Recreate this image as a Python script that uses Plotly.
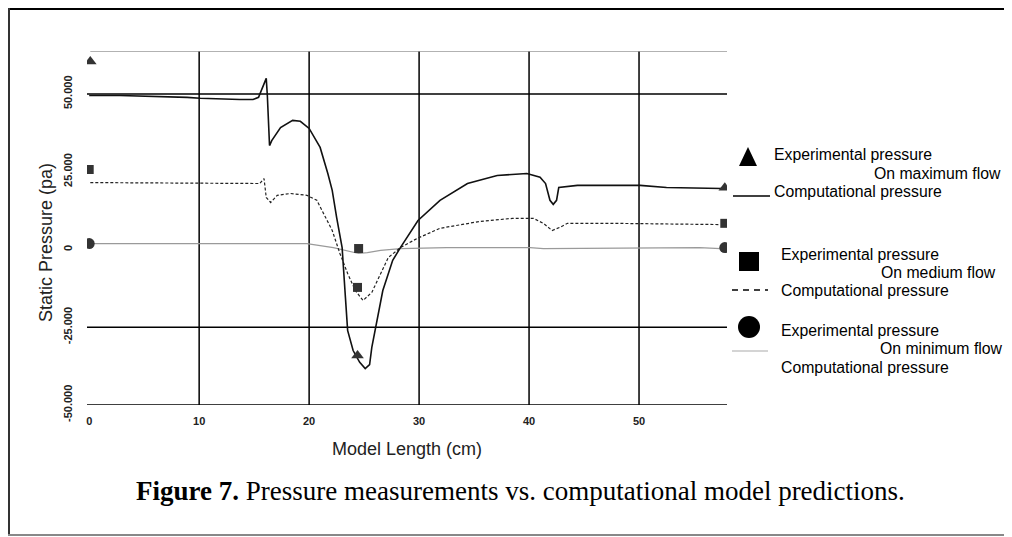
import plotly.graph_objects as go

# ---------------- data ----------------
max_x = [0, 2.8, 8.9, 10.1, 13.7, 14.9, 15.4, 16.1, 16.2, 16.4, 16.6, 17.4, 18.5, 19.2, 20.0, 21.0, 21.7,
         22.1, 22.5, 23.0, 23.3, 23.5, 24.0, 24.6, 25.1, 25.5, 25.7, 26.2, 26.7, 27.6, 28.3, 29.9, 31.9,
         34.4, 37.1, 39.8, 41.0, 41.5, 41.9, 42.2, 42.5, 42.7, 44.4, 50.1, 52.5, 57.5]
max_y = [49500, 49500, 48900, 48600, 48200, 48200, 48900, 55000, 49500, 33400, 35000, 39200, 41500, 41200,
         38900, 32800, 24400, 19000, 10300, 600, -15400, -26000, -32500, -36300, -38300, -37000, -31500,
         -22800, -13200, -3500, 600, 9300, 15800, 21200, 23800, 24400, 23200, 21200, 15800, 14500, 15800,
         19900, 20600, 20600, 19900, 19600]

med_x = [0.1, 13.7, 15.5, 15.9, 16.1, 16.5, 17.1, 18.3, 19.8, 20.7, 21.3, 22.1, 22.8, 23.5, 24.2, 24.9,
         25.7, 26.5, 27.2, 28.3, 29.8, 31.9, 35.5, 38.5, 40.4, 41.3, 42.1, 42.8, 43.5, 47.6, 57.4]
med_y = [21500, 21200, 21200, 22800, 16700, 15100, 17400, 18000, 17400, 15800, 11600, 6100, -1300, -7700,
         -13200, -16400, -13800, -7700, -2600, 600, 3500, 6800, 9000, 10000, 10000, 8400, 6100, 7100, 8400,
         8400, 8000]

min_x = [0.1, 10.1, 19.8, 22.2, 24.5, 25.3, 26.5, 28.3, 32.5, 40.1, 41.3, 55.5, 57.4]
min_y = [1900, 1900, 1900, 600, -1300, -1000, -300, 300, 600, 600, 300, 600, 300]

exp_max_x = [0.1, 24.4, 57.8]
exp_max_y = [60400, -34100, 19800]
exp_med_x = [0.0, 24.5, 24.4, 57.8]
exp_med_y = [25700, 300, -12200, 8400]
exp_min_x = [0.0, 57.8]
exp_min_y = [1900, 600]

x_ticks = [0, 10, 20, 30, 40, 50]
y_ticks = [50000, 25000, 0, -25000, -50000]
y_tick_text = ["50.000", "25.000", "0", "-25.000", "-50.000"]
x_grid = [10, 20, 30, 40, 50]
y_grid = [50000, -25000, -50000]
y_top = 63800
x_range = [-0.2, 58]

x_title = "Model Length (cm)"
y_title = "Static Pressure (pa)"
caption = "<b>Figure 7.</b> Pressure measurements vs. computational model predictions."
legend_flows = ["On maximum flow", "On medium flow", "On minimum flow"]

# ---------------- layout geometry (page pixels; page body has an 8px margin) ----------------
OFF = 8
W, H = 1012 - OFF, 537 - OFF
L, R, T, B = 87 - OFF, 727 - OFF, 51 - OFF, 405 - OFF


def px(x):
    return ((x - OFF) - L) / (R - L)


def py(y):
    return (B - (y - OFF)) / (B - T)


fig = go.Figure()
fig.add_trace(go.Scatter(x=min_x, y=min_y, mode="lines", line=dict(color="#9a9a9a", width=1.2), showlegend=False))
fig.add_trace(go.Scatter(x=med_x, y=med_y, mode="lines", line=dict(color="#222", width=1.2, dash="3px,2px"),
                         showlegend=False))
fig.add_trace(go.Scatter(x=max_x, y=max_y, mode="lines", line=dict(color="#111", width=1.6), showlegend=False))
fig.add_trace(go.Scatter(x=exp_max_x, y=exp_max_y, mode="markers",
                         marker=dict(symbol="triangle-up", size=11, color="#333"), showlegend=False))
fig.add_trace(go.Scatter(x=exp_med_x, y=exp_med_y, mode="markers",
                         marker=dict(symbol="square", size=9, color="#333"), showlegend=False))
fig.add_trace(go.Scatter(x=exp_min_x, y=exp_min_y, mode="markers",
                         marker=dict(symbol="circle", size=11, color="#333"), showlegend=False))

shapes = []
for xv in x_grid:
    shapes.append(dict(type="line", xref="x", yref="y", x0=xv, x1=xv, y0=y_grid[-1], y1=y_top,
                       line=dict(color="black", width=1.5), layer="below"))
for yv in y_grid:
    shapes.append(dict(type="line", xref="x", yref="y", x0=x_range[0], x1=x_range[1], y0=yv, y1=yv,
                       line=dict(color="black", width=1.5), layer="below"))
shapes.append(dict(type="line", xref="x", yref="y", x0=0.1, x1=x_range[1], y0=y_top, y1=y_top,
                   line=dict(color="#999", width=1.5), layer="below"))

# figure border
shapes.append(dict(type="line", xref="paper", yref="paper", x0=px(8), x1=px(1012), y0=py(9), y1=py(9),
                   line=dict(color="black", width=2)))
shapes.append(dict(type="line", xref="paper", yref="paper", x0=px(9), x1=px(9), y0=py(8), y1=py(535),
                   line=dict(color="#333", width=2)))
shapes.append(dict(type="line", xref="paper", yref="paper", x0=px(8), x1=px(1012), y0=py(535), y1=py(535),
                   line=dict(color="#888", width=2)))

# legend symbols
shapes.append(dict(type="path", xref="paper", yref="paper",
                   path=f"M {px(748)} {py(147)} L {px(739)} {py(166)} L {px(757)} {py(166)} Z",
                   fillcolor="black", line=dict(color="black", width=0)))
shapes.append(dict(type="line", xref="paper", yref="paper", x0=px(733), x1=px(770), y0=py(196), y1=py(196),
                   line=dict(color="black", width=1.6)))
shapes.append(dict(type="rect", xref="paper", yref="paper", x0=px(739), x1=px(759), y0=py(252), y1=py(271),
                   fillcolor="black", line=dict(color="black", width=0)))
shapes.append(dict(type="line", xref="paper", yref="paper", x0=px(732), x1=px(768), y0=py(290), y1=py(290),
                   line=dict(color="black", width=1.5, dash="6px,5px")))
shapes.append(dict(type="circle", xref="paper", yref="paper", x0=px(738), x1=px(760), y0=py(316), y1=py(338),
                   fillcolor="black", line=dict(color="black", width=0)))
shapes.append(dict(type="line", xref="paper", yref="paper", x0=px(732), x1=px(768), y0=py(351), y1=py(351),
                   line=dict(color="#aaa", width=1.2)))

lf = dict(family="Liberation Sans, Arial", size=15.8, color="black")
annotations = []
leg_rows = [
    (772, 154, 1003, 173, 772, 191),
    (779, 254, 998, 272, 779, 290),
    (779, 330, 1005, 348, 779, 367),
]
for (ex, ey, ox, oy, cx, cy), flow in zip(leg_rows, legend_flows):
    annotations.append(dict(text="Experimental pressure", xref="paper", yref="paper", x=px(ex), y=py(ey),
                            xanchor="left", yanchor="middle", showarrow=False, font=lf))
    annotations.append(dict(text=flow, xref="paper", yref="paper", x=px(ox), y=py(oy),
                            xanchor="right", yanchor="middle", showarrow=False, font=lf))
    annotations.append(dict(text="Computational pressure", xref="paper", yref="paper", x=px(cx), y=py(cy),
                            xanchor="left", yanchor="middle", showarrow=False, font=lf))

annotations.append(dict(text=x_title, xref="paper", yref="paper", x=px(407), y=py(449), xanchor="center",
                        yanchor="middle", showarrow=False,
                        font=dict(family="Liberation Sans, Arial", size=18, color="#222")))
annotations.append(dict(text=y_title, xref="paper", yref="paper", x=px(46), y=py(243), xanchor="center",
                        yanchor="middle", showarrow=False, textangle=-90,
                        font=dict(family="Liberation Sans, Arial", size=18, color="#222")))
annotations.append(dict(text=caption, xref="paper", yref="paper", x=px(520), y=py(491), xanchor="center",
                        yanchor="middle", showarrow=False,
                        font=dict(family="Liberation Serif, Times New Roman", size=27, color="black")))

fig.update_layout(
    width=W, height=H,
    margin=dict(l=L, r=W - R, t=T, b=H - B, pad=0),
    paper_bgcolor="white", plot_bgcolor="white",
    showlegend=False,
    shapes=shapes,
    annotations=annotations,
    xaxis=dict(range=x_range, tickvals=x_ticks, ticktext=[str(v) for v in x_ticks], showgrid=False,
               zeroline=False, showline=False, ticks="", ticklabelstandoff=8,
               tickfont=dict(family="Liberation Sans, Arial", size=11, color="#222", weight="bold")),
    yaxis=dict(range=[y_grid[-1], y_top], tickvals=y_ticks, ticktext=y_tick_text, showgrid=False,
               zeroline=False, showline=False, ticks="", tickangle=-90, ticklabelstandoff=12,
               tickfont=dict(family="Liberation Sans, Arial", size=11, color="#222", weight="bold")),
)

fig.write_html("out.html", config={"displayModeBar": False})
